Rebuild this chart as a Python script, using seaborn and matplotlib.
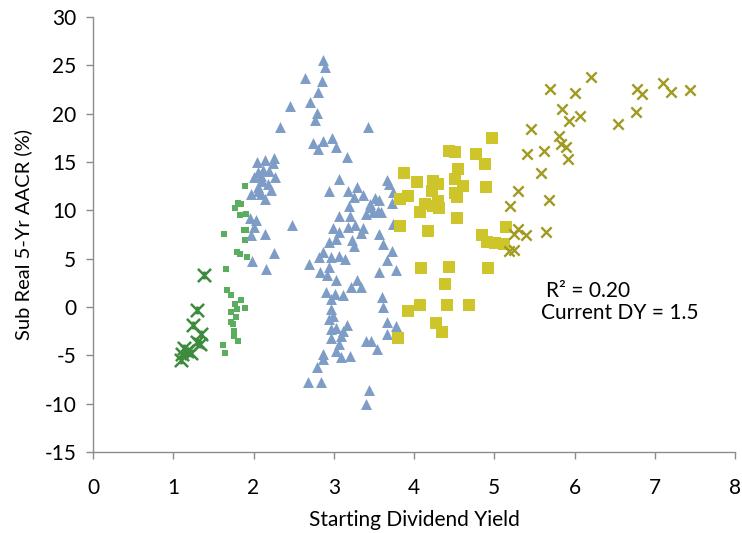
import matplotlib
matplotlib.use("Agg")
import matplotlib.pyplot as plt
import seaborn as sns
import pandas as pd
from matplotlib.path import Path

# ---- data ----
star_x = [1.38, 1.29, 1.24, 1.34, 1.29, 1.33, 1.14, 1.11, 1.22, 1.10, 1.17]
star_y = [3.3, -0.27, -1.9, -2.8, -3.6, -3.8, -4.2, -4.9, -4.8, -5.5, -4.5]

gsq_x = [1.89, 1.81, 1.84, 1.77, 1.83, 1.91, 1.63, 1.88, 1.91, 1.90, 1.80, 1.83, 1.92, 1.66, 1.67,
         1.72, 1.84, 1.77, 1.89, 1.79, 1.72, 1.78, 1.72, 1.75, 1.76, 1.76, 1.81, 1.62, 1.64]
gsq_y = [12.5, 10.8, 10.65, 10.2, 9.5, 9.6, 7.55, 8.0, 8.0, 6.9, 5.65, 5.5, 5.2, 3.9, 1.8,
         1.25, 0.73, 0.3, -0.15, -0.2, -0.55, -1.05, -1.6, -1.8, -2.45, -2.95, -3.5, -3.9, -4.8]

tri_x = [2.45, 2.33, 2.04, 2.14, 2.25, 2.24, 2.06, 2.12, 2.19, 2.00, 2.11, 2.27, 2.05, 1.97, 2.09,
         2.22, 2.14, 1.96, 2.03, 2.01, 2.14, 1.97, 2.48, 2.25, 1.98, 2.15, 2.18, 2.05, 2.09,
         2.87, 2.89, 2.64, 2.85, 2.80, 2.71, 2.79, 2.77, 3.43, 2.74, 2.86, 2.98, 2.80, 3.03, 3.16,
         3.06, 2.94, 3.18, 3.29, 3.25, 3.37, 3.19, 3.07, 3.20, 3.66, 3.69, 3.51, 3.57, 3.73, 3.45,
         3.49, 3.55, 3.40, 3.45, 3.74, 3.59, 3.74,
         2.99, 3.07, 3.18, 3.26, 3.36, 3.34, 3.03, 2.94, 3.23, 3.25, 3.57, 3.61, 2.87, 2.81, 2.96,
         3.07, 3.14, 3.72, 3.66, 2.69, 2.83, 2.94, 2.91, 3.57, 3.78, 3.03, 3.29, 3.22, 3.34, 2.90,
         3.02, 3.12, 2.96, 3.60, 2.97, 3.61, 2.99, 2.94, 3.66, 3.78, 3.16, 2.97, 3.03, 3.11, 3.66,
         2.96, 3.09, 3.40, 3.46, 3.06, 3.03, 3.54, 2.87, 2.87, 3.09, 3.20, 2.79, 2.68, 2.84, 3.44,
         3.40]
tri_y = [20.8, 18.6, 15.05, 15.2, 15.4, 14.85, 14.0, 14.15, 14.1, 13.4, 13.05, 13.4, 12.45, 11.7, 11.7,
         12.1, 11.2, 9.2, 9.0, 8.25, 7.55, 7.4, 8.5, 5.6, 4.8, 3.9, 12.7, 12.0, 13.6,
         25.55, 24.8, 23.7, 23.4, 22.2, 21.2, 20.1, 19.3, 18.6, 17.0, 17.2, 17.5, 16.3, 16.55, 15.5,
         13.2, 11.95, 12.0, 12.45, 11.35, 11.6, 10.4, 9.4, 9.4, 13.1, 12.7, 11.3, 11.05, 10.8, 10.3,
         9.8, 9.9, 9.6, 10.65, 11.85, 9.8, 8.6,
         8.2, 7.8, 8.25, 8.5, 8.2, 7.7, 7.0, 6.7, 6.9, 6.35, 7.55, 6.5, 5.65, 5.15, 5.15,
         5.3, 5.0, 5.8, 4.85, 4.5, 3.65, 4.1, 3.35, 3.65, 3.85, 2.75, 2.8, 2.05, 2.05, 1.6,
         1.35, 1.2, 0.85, 1.0, -0.2, 0.0, -0.9, -1.2, -1.6, -2.0, -1.9, -2.25, -2.2, -2.45, -2.8,
         -3.25, -2.95, -3.5, -3.55, -3.8, -4.5, -4.3, -4.85, -5.35, -5.2, -5.05, -6.2, -7.8, -7.8, -8.55,
         -10.0]

ysq_x = [4.97, 4.44, 4.51, 4.77, 4.88, 4.55, 3.87, 4.04, 4.24, 4.30, 4.51, 4.61, 4.90, 4.22, 3.93,
         3.83, 4.51, 4.14, 4.30, 4.24, 4.31, 4.07, 4.53, 4.54, 3.83, 4.17, 5.15, 4.85, 4.91, 5.01,
         5.12, 4.09, 4.44, 4.92, 4.39, 4.08, 4.41, 4.68, 3.92, 4.27, 4.35, 3.80]
ysq_y = [17.5, 16.1, 16.0, 15.8, 14.8, 14.3, 13.9, 12.9, 13.05, 12.7, 13.2, 12.55, 12.45, 12.0, 11.5,
         11.15, 11.75, 10.65, 11.0, 10.5, 10.25, 9.85, 11.35, 9.2, 8.4, 7.9, 8.25, 7.4, 6.7, 6.6,
         6.5, 4.05, 4.1, 4.0, 2.4, 0.25, 0.2, 0.2, -0.45, -1.7, -2.6, -3.25]

ox_x = [6.21, 5.69, 6.00, 5.84, 6.07, 5.93, 6.54, 5.46, 5.81, 5.83, 5.89, 5.62, 5.41, 5.92, 5.58,
        5.30, 5.20, 5.68, 5.29, 5.24, 5.39, 5.64, 5.19, 5.25, 6.77, 6.78, 6.84, 7.10, 7.20, 7.44]
ox_y = [23.8, 22.5, 22.1, 20.5, 19.8, 19.2, 18.9, 18.4, 17.7, 16.85, 16.55, 16.1, 15.8, 15.35, 13.85,
        12.0, 10.4, 11.1, 8.05, 7.55, 7.5, 7.8, 5.8, 5.9, 20.2, 22.5, 22.0, 23.2, 22.2, 22.4]

annot = ["R\u00b2 = 0.20", "Current DY = 1.5"]

# ---- style ----
sns.set_theme(style="white")
plt.rcParams["font.family"] = ["Lato", "DejaVu Sans"]
plt.rcParams["axes.unicode_minus"] = False

fig = plt.figure(figsize=(7.42, 5.33), dpi=100)
ax = fig.add_axes([93 / 742, 1 - 452 / 533, 642 / 742, 435 / 533])

star_path = Path([(-1, -1), (1, 1), (-1, 1), (1, -1), (0, -0.6), (0, 0.6)],
                 [Path.MOVETO, Path.LINETO, Path.MOVETO, Path.LINETO, Path.MOVETO, Path.LINETO])

sns.scatterplot(x=star_x, y=star_y, ax=ax, marker=star_path, s=90,
                color="#3D8B3D", edgecolor="#3D8B3D", linewidth=1.8, zorder=3)
sns.scatterplot(x=gsq_x, y=gsq_y, ax=ax, marker="s", s=22,
                color="#5BAE5E", linewidth=0, zorder=3)
sns.scatterplot(x=tri_x, y=tri_y, ax=ax, marker="^", s=62,
                color="#7E9DC6", linewidth=0, zorder=4)
sns.scatterplot(x=ysq_x, y=ysq_y, ax=ax, marker="s", s=64,
                color="#CDC52A", linewidth=0, zorder=5)
sns.scatterplot(x=ox_x, y=ox_y, ax=ax, marker="x", s=55,
                color="#A09A20", linewidth=1.7, zorder=6)

ax.set_xlim(0, 8)
ax.set_ylim(-15, 30)
ax.set_xticks(range(0, 9))
ax.set_yticks(range(-15, 31, 5))
for s in ["top", "right"]:
    ax.spines[s].set_visible(False)
for s in ["left", "bottom"]:
    ax.spines[s].set_color("#8C8C8C")
    ax.spines[s].set_linewidth(1.0)
ax.tick_params(axis="both", direction="out", length=5, width=1, color="#8C8C8C",
               labelsize=15, labelcolor="#000000", left=True, bottom=True)
ax.tick_params(axis="x", pad=14)
ax.tick_params(axis="y", pad=7)

ax.set_xlabel("Starting Dividend Yield", fontsize=15, color="#000000", labelpad=8)
ax.set_ylabel("Sub Real 5-Yr AACR (%)", fontsize=14.5, color="#000000", labelpad=9)

ax.text(5.64, 1.7, annot[0], fontsize=15, ha="left", va="center", color="#000000")
ax.text(5.58, -0.6, annot[1], fontsize=15, ha="left", va="center", color="#000000")

fig.savefig("out.png", dpi=100)
